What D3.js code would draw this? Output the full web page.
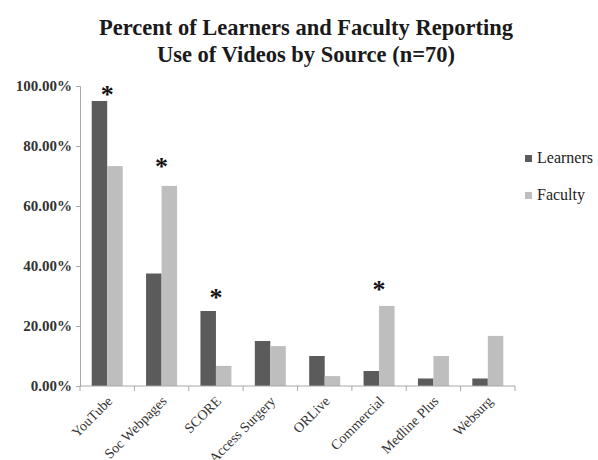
<!DOCTYPE html>
<html>
<head>
<meta charset="utf-8">
<script src="https://d3js.org/d3.v7.min.js"></script>
<style>
  body { margin: 0; background: #fff; }
  text { font-family: "Liberation Serif", "DejaVu Serif", serif; }
</style>
</head>
<body>
<div id="chart"></div>
<script>
// categories and series values (percent)
var sources = ["YouTube", "Soc Webpages", "SCORE", "Access Surgery", "ORLive", "Commercial", "Medline Plus", "Websurg"];
var learners = [95, 37.5, 25, 15, 10, 5, 2.5, 2.5];
var faculty = [73.3, 66.7, 6.7, 13.3, 3.3, 26.7, 10, 16.7];
var seriesNames = ["Learners", "Faculty"];
var yTicks = [0, 20, 40, 60, 80, 100];
// significance markers: category and height (percent) of the star
var starCats = ["YouTube", "Soc Webpages", "SCORE", "Commercial"];
var starLevels = [98.4, 74.4, 30.7, 33.3];

var colors = ["#5b5b5b", "#bebebe"];
var W = 598, H = 460;
var svg = d3.select("#chart").append("svg").attr("width", W).attr("height", H);

var x = d3.scaleBand().domain(sources).range([80, 515]).paddingInner(0.43).paddingOuter(0.215);
var xs = d3.scaleBand().domain(seriesNames).range([0, x.bandwidth()]);
var y = d3.scaleLinear().domain([0, 100]).range([386, 86]);

// title
svg.append("text").attr("x", 306).attr("y", 35).attr("text-anchor", "middle")
  .attr("font-size", 22.5).attr("font-weight", "bold").attr("fill", "#1a1a1a")
  .text("Percent of Learners and Faculty Reporting");
svg.append("text").attr("x", 306).attr("y", 62).attr("text-anchor", "middle")
  .attr("font-size", 22.5).attr("font-weight", "bold").attr("fill", "#1a1a1a")
  .text("Use of Videos by Source (n=70)");

// bars
var rows = sources.map(function (s, i) { return { src: s, vals: [learners[i], faculty[i]] }; });
var g = svg.selectAll("g.grp").data(rows).enter().append("g")
  .attr("transform", function (d) { return "translate(" + x(d.src) + ",0)"; });
g.selectAll("rect").data(function (d) { return d.vals.map(function (v, k) { return { k: k, v: v }; }); })
  .enter().append("rect")
  .attr("x", function (d) { return xs(seriesNames[d.k]); })
  .attr("width", xs.bandwidth())
  .attr("y", function (d) { return y(d.v); })
  .attr("height", function (d) { return y(0) - y(d.v); })
  .attr("fill", function (d) { return colors[d.k]; });

// y axis
var yAxis = svg.append("g").attr("transform", "translate(80,0)")
  .call(d3.axisLeft(y).tickValues(yTicks).tickSize(4).tickPadding(4)
    .tickFormat(function (d) { return d.toFixed(2) + "%"; }));
yAxis.select(".domain").attr("stroke", "#a8a8a8");
yAxis.selectAll(".tick line").attr("stroke", "#a8a8a8");
yAxis.selectAll(".tick text").attr("font-family", "Liberation Serif, serif")
  .attr("font-size", 15).attr("font-weight", "bold").attr("fill", "#333");

// x axis
var xAxisG = svg.append("g").attr("transform", "translate(0,386)");
xAxisG.append("line").attr("x1", 80).attr("x2", 515).attr("y1", 0).attr("y2", 0).attr("stroke", "#a8a8a8");
var step = x.step();
var bounds = sources.map(function (s) { return x(s) - x.paddingInner() * step / 2; });
bounds.push(515);
xAxisG.selectAll("line.tk").data(bounds).enter().append("line")
  .attr("x1", function (d) { return d; }).attr("x2", function (d) { return d; })
  .attr("y1", 0).attr("y2", 5).attr("stroke", "#a8a8a8");
xAxisG.selectAll("text.lbl").data(sources).enter().append("text")
  .attr("transform", function (d) {
    return "translate(" + (x(d) + x.bandwidth() / 2 + 6) + ",16) rotate(-45)";
  })
  .attr("text-anchor", "end").attr("font-size", 14).attr("fill", "#333")
  .text(function (d) { return d; });

// stars
svg.selectAll("text.star").data(starCats).enter().append("text")
  .attr("x", function (d) { return x(d) + x.bandwidth() / 2; })
  .attr("y", function (d, i) { return y(starLevels[i]) + 12; })
  .attr("text-anchor", "middle").attr("font-size", 26).attr("font-weight", "bold").attr("fill", "#111")
  .text("*");

// legend
var leg = svg.selectAll("g.leg").data(seriesNames).enter().append("g")
  .attr("transform", function (d, i) { return "translate(525," + (155 + i * 37) + ")"; });
leg.append("rect").attr("width", 7).attr("height", 7).attr("fill", function (d, i) { return colors[i]; });
leg.append("text").attr("x", 12).attr("y", 8).attr("font-size", 16).attr("fill", "#222")
  .text(function (d) { return d; });
</script>
</body>
</html>
